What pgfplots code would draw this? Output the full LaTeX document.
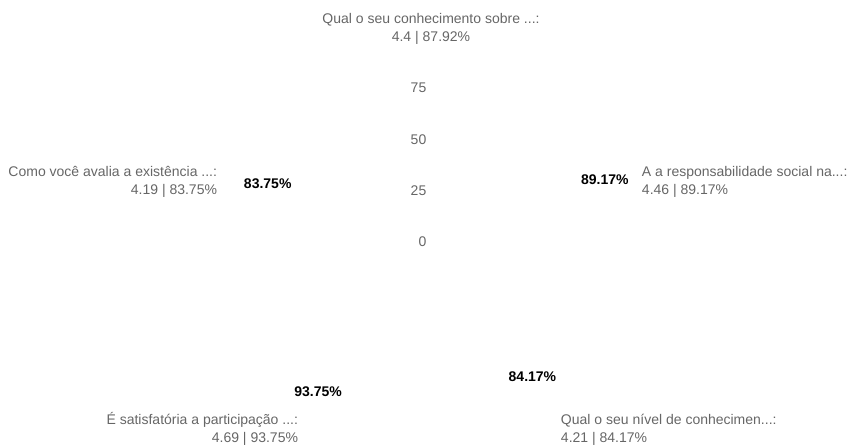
\documentclass[border=0pt]{standalone}
\usepackage{fontspec}
\setmainfont{Liberation Sans}
\usepackage{pgfplots}
\pgfplotsset{compat=1.18}
\usepgfplotslibrary{polar}
\definecolor{labgray}{HTML}{666666}
\newlength\pxu
\setlength\pxu{0.75pt}
% #1 X offset (px), #2 raise (px), #3 alignment l/c/r, #4 first line, #5 second line
\newcommand{\cat}[5]{\makebox[0pt][l]{\hspace*{#1\pxu}\raisebox{#2\pxu}[0pt][0pt]{\makebox[0pt][#3]{\begin{tabular}[c]{@{}#3@{}}#4\\#5\end{tabular}}}}}
\begin{document}
\begin{tikzpicture}
\path[use as bounding box] (0,0) rectangle (637.5pt,-333.75pt);
\begin{polaraxis}[
  at={(323.25pt,-181.5pt)}, anchor=center,
  width=307.5pt, height=307.5pt, scale only axis,
  xmin=90, xmax=450, ymin=0, ymax=100,
  xtick={90,162,234,306,378},
  xticklabels={
    {\cat{0}{4.2}{c}{Qual o seu conhecimento sobre ...:}{4.4 | 87.92\%}},
    {\cat{-19}{-7}{r}{Como você avalia a existência ...:}{4.19 | 83.75\%}},
    {\cat{-12.5}{-26}{r}{É satisfatória a participação ...:}{4.69 | 93.75\%}},
    {\cat{9.5}{-26}{l}{Qual o seu nível de conhecimen...:}{4.21 | 84.17\%}},
    {\cat{16}{-7}{l}{A a responsabilidade social na...:}{4.46 | 89.17\%}}
  },
  ytick={0,25,50,75},
  axis line style={draw=none},
  major tick length=0pt,
  xmajorgrids=false, ymajorgrids=false,
  xticklabel style={anchor=center, inner sep=0pt, outer sep=0pt, text=labgray,
    font=\fontsize{10.5}{13.5}\selectfont},
  yticklabel style={text=labgray, font=\fontsize{10.5}{13.5}\selectfont},
  /pgf/number format/assume math mode=true,
  clip=false,
]
\addplot[draw=none, mark=none, nodes near coords, point meta=explicit symbolic,
  every node near coord/.append style={anchor=center, yshift=4pt, text=black,
    font=\bfseries\fontsize{10.5}{12}\selectfont}]
  coordinates {
    (90,87.92) []
    (162,83.75) [83.75\%]
    (234,93.75) [93.75\%]
    (306,84.17) [84.17\%]
    (378,89.17) [89.17\%]
  };
\end{polaraxis}
\end{tikzpicture}
\end{document}
